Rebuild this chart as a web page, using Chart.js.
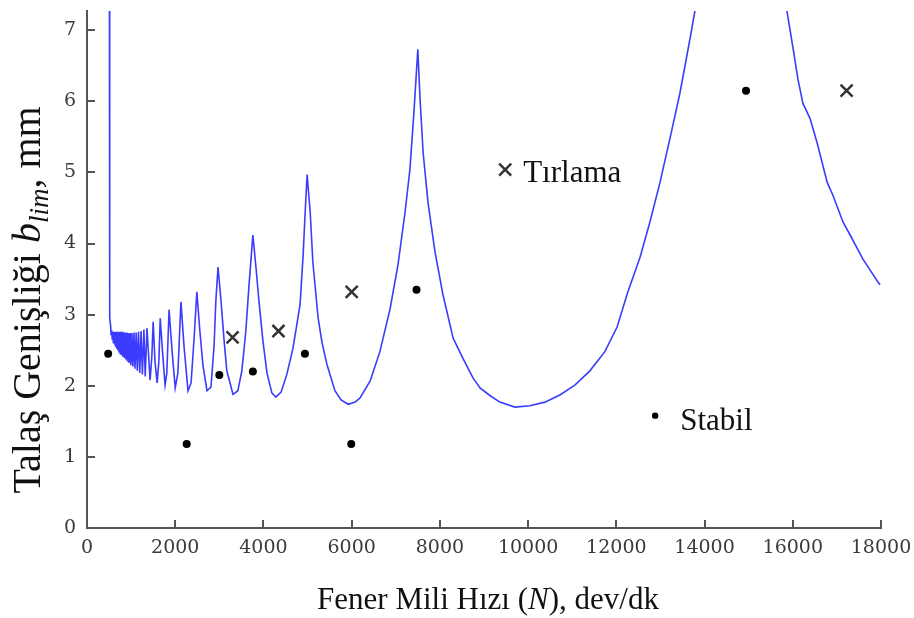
<!DOCTYPE html>
<html>
<head>
<meta charset="utf-8">
<title>Kararlılık Lob Diyagramı</title>
<script src="https://cdn.jsdelivr.net/npm/chart.js@4.4.1/dist/chart.umd.min.js"></script>
<style>
  html, body { margin: 0; padding: 0; background: #fff; }
</style>
</head>
<body>
<canvas id="sld" width="914" height="618"></canvas>
<script>
// eksen işaretleri
const xTickValues = [0, 2000, 4000, 6000, 8000, 10000, 12000, 14000, 16000, 18000];
const yTickValues = [0, 1, 2, 3, 4, 5, 6, 7];

// kararlılık lobu sınırı: hız (dev/dk) ve limit talaş genişliği (mm)
const lobeSpeed = [
  508, 510, 520, 535, 545, 560, 572, 585, 597, 610, 622, 635, 647, 660, 673, 686,
  699, 712, 726, 740, 754, 768, 783, 798, 814, 830, 846, 863, 880, 898, 916, 935,
  955, 975, 996, 1018, 1040, 1064, 1088, 1114, 1140, 1168, 1196, 1226, 1256, 1290, 1320, 1360,
  1410, 1430, 1470, 1500, 1540, 1590, 1630, 1660, 1720, 1770, 1810, 1860,
  1930, 2000, 2060, 2130, 2200, 2290, 2360, 2430, 2490, 2560, 2630, 2720, 2810, 2880,
  2920, 2970, 3040, 3110, 3170, 3310, 3420, 3510, 3600, 3670, 3760, 3830, 3900, 3990,
  4080, 4190, 4280, 4400, 4530, 4670, 4830, 4900, 4940, 4990, 5060, 5120, 5240, 5330,
  5440, 5620, 5760, 5920, 6080, 6190, 6420, 6640, 6870, 7050, 7210, 7320, 7410, 7500,
  7550, 7620, 7730, 7890, 8070, 8300, 8520, 8750, 8910, 9140, 9360, 9700, 10040, 10380,
  10720, 11060, 11400, 11740, 12020, 12260, 12540, 12760, 12990, 13220, 13440, 13670, 13830,
  15780, 15870, 16000, 16120, 16230, 16390, 16550, 16780, 16910, 17140, 17300, 17590, 17930, 17980
];
const lobeWidth = [
  7.6, 3.09, 2.95, 2.85, 2.72, 2.78, 2.66, 2.76, 2.61, 2.76, 2.58, 2.76, 2.55, 2.76, 2.52, 2.76,
  2.50, 2.76, 2.48, 2.76, 2.45, 2.76, 2.43, 2.76, 2.41, 2.75, 2.39, 2.75, 2.37, 2.75, 2.34, 2.74,
  2.32, 2.74, 2.29, 2.74, 2.27, 2.75, 2.24, 2.75, 2.21, 2.76, 2.18, 2.77, 2.16, 2.79, 2.13, 2.81,
  2.28, 2.08, 2.41, 2.90, 2.35, 2.04, 2.35, 2.95, 2.41, 2.01, 2.18, 3.07,
  2.48, 1.97, 2.18, 3.18, 2.55, 1.93, 2.04, 2.69, 3.32, 2.76, 2.28, 1.93, 1.98, 2.55,
  3.18, 3.67, 3.18, 2.62, 2.21, 1.88, 1.93, 2.21, 2.76, 3.39, 4.12, 3.67, 3.18, 2.62,
  2.18, 1.90, 1.84, 1.91, 2.16, 2.53, 3.14, 3.84, 4.37, 4.97, 4.44, 3.74, 2.95, 2.60,
  2.30, 1.93, 1.80, 1.74, 1.77, 1.83, 2.07, 2.48, 3.08, 3.70, 4.44, 5.04, 5.83, 6.73,
  6.04, 5.28, 4.58, 3.88, 3.28, 2.67, 2.39, 2.11, 1.97, 1.86, 1.77, 1.70, 1.72, 1.77,
  1.87, 2.01, 2.21, 2.48, 2.83, 3.32, 3.81, 4.30, 4.86, 5.49, 6.11, 6.88, 7.44,
  7.44, 7.26, 6.77, 6.30, 5.97, 5.76, 5.42, 4.86, 4.68, 4.30, 4.12, 3.78, 3.46, 3.42
];

// deney noktaları (son eleman açıklama işareti)
const stableSpeed = [480, 2260, 3000, 3760, 4940, 5990, 7470, 14940, 12880];
const stableWidth = [2.45, 1.18, 2.15, 2.20, 2.45, 1.18, 3.35, 6.15, 1.58];
const chatterSpeed = [3300, 4340, 6000, 17220, 9480];
const chatterWidth = [2.68, 2.77, 3.32, 6.15, 5.04];

const noteLabels = ['Tırlama', 'Stabil'];

const serif = '"Liberation Serif", "Times New Roman", serif';
const axisColor = '#555';

const toPoints = (xs, ys) => xs.map((x, i) => ({ x, y: ys[i] }));

// metin parçalarını yan yana yaz (italik / alt simge için)
function runsWidth(ctx, runs) {
  return runs.reduce((w, r) => { ctx.font = r[1]; return w + ctx.measureText(r[0]).width; }, 0);
}
function drawRuns(ctx, runs, x, y) {
  let cx = x;
  runs.forEach(([text, font, dy]) => {
    ctx.font = font;
    ctx.fillText(text, cx, y + (dy || 0));
    cx += ctx.measureText(text).width;
  });
}

// içe dönük eksen çentikleri
const inwardTicks = {
  id: 'inwardTicks',
  afterDraw(chart) {
    const { ctx, chartArea, scales: { x, y } } = chart;
    ctx.save();
    ctx.strokeStyle = axisColor;
    ctx.lineWidth = 2;
    ctx.beginPath();
    x.ticks.forEach(t => {
      if (t.value === 0) return;
      const px = Math.round(x.getPixelForValue(t.value));
      ctx.moveTo(px, chartArea.bottom);
      ctx.lineTo(px, chartArea.bottom - 8);
    });
    y.ticks.forEach(t => {
      if (t.value === 0) return;
      const py = Math.round(y.getPixelForValue(t.value));
      ctx.moveTo(chartArea.left, py);
      ctx.lineTo(chartArea.left + 8, py);
    });
    ctx.stroke();
    ctx.restore();
  }
};

// eksen başlıkları ve grafik içi açıklamalar
const textLayer = {
  id: 'textLayer',
  afterDraw(chart) {
    const { ctx, chartArea } = chart;
    ctx.save();
    ctx.fillStyle = '#111';
    ctx.textBaseline = 'alphabetic';
    ctx.textAlign = 'left';

    const xRuns = [
      ['Fener Mili Hızı (', `31px ${serif}`],
      ['N', `italic 31px ${serif}`],
      ['), dev/dk', `31px ${serif}`]
    ];
    const xw = runsWidth(ctx, xRuns);
    drawRuns(ctx, xRuns, (chartArea.left + chartArea.right) / 2 + 4 - xw / 2, 609);

    const yRuns = [
      ['Talaş Genişliği ', `40px ${serif}`],
      ['b', `italic 40px ${serif}`],
      ['lim', `italic 27px ${serif}`, 8],
      [', mm', `40px ${serif}`]
    ];
    const yw = runsWidth(ctx, yRuns);
    ctx.save();
    ctx.translate(40, 300);
    ctx.rotate(-Math.PI / 2);
    drawRuns(ctx, yRuns, -yw / 2, 0);
    ctx.restore();

    ctx.font = `31px ${serif}`;
    const chatterMeta = chart.getDatasetMeta(1).data;
    const stableMeta = chart.getDatasetMeta(0).data;
    const c = chatterMeta[chatterMeta.length - 1];
    const s = stableMeta[stableMeta.length - 1];
    ctx.fillText(noteLabels[0], c.x + 18, c.y + 12);
    ctx.fillText(noteLabels[1], s.x + 25, s.y + 14);
    ctx.restore();
  }
};

const tickFont = { family: '"DejaVu Serif", serif', size: 19 };

new Chart(document.getElementById('sld'), {
  type: 'scatter',
  data: {
    datasets: [
      {
        label: 'Stabil',
        data: toPoints(stableSpeed, stableWidth),
        pointStyle: 'circle',
        pointRadius: stableSpeed.map((_, i) => i === stableSpeed.length - 1 ? 3.2 : 4),
        backgroundColor: '#000',
        borderColor: '#000',
        borderWidth: 0
      },
      {
        label: 'Tırlama',
        data: toPoints(chatterSpeed, chatterWidth),
        pointStyle: 'crossRot',
        pointRadius: 8.5,
        borderColor: '#333',
        borderWidth: 2.5
      },
      {
        label: 'blim',
        data: toPoints(lobeSpeed, lobeWidth),
        showLine: true,
        pointRadius: 0,
        borderColor: 'rgb(60, 60, 255)',
        borderWidth: 1.6,
        tension: 0
      }
    ]
  },
  options: {
    responsive: false,
    animation: false,
    events: [],
    layout: { padding: { top: 7, right: 33, left: 0, bottom: 0 } },
    plugins: {
      legend: { display: false },
      tooltip: { enabled: false }
    },
    scales: {
      x: {
        type: 'linear',
        min: 0,
        max: 18000,
        afterBuildTicks: s => { s.ticks = xTickValues.map(v => ({ value: v })); },
        afterFit: s => { s.height = 90; s.paddingLeft = 0; s.paddingRight = 0; },
        ticks: { callback: v => String(v), font: tickFont, color: '#3a3a3a', padding: 9, maxRotation: 0, autoSkip: false },
        grid: { display: true, drawOnChartArea: false, drawTicks: false },
        border: { display: true, color: axisColor, width: 2 }
      },
      y: {
        type: 'linear',
        min: 0,
        max: 7.27,
        afterBuildTicks: s => { s.ticks = yTickValues.map(v => ({ value: v })); },
        afterFit: s => { s.width = 87; s.paddingTop = 0; s.paddingBottom = 0; },
        ticks: { callback: v => String(v), font: tickFont, color: '#3a3a3a', padding: 11, autoSkip: false },
        grid: { display: true, drawOnChartArea: false, drawTicks: false },
        border: { display: true, color: axisColor, width: 2 }
      }
    }
  },
  plugins: [inwardTicks, textLayer]
});
</script>
</body>
</html>
